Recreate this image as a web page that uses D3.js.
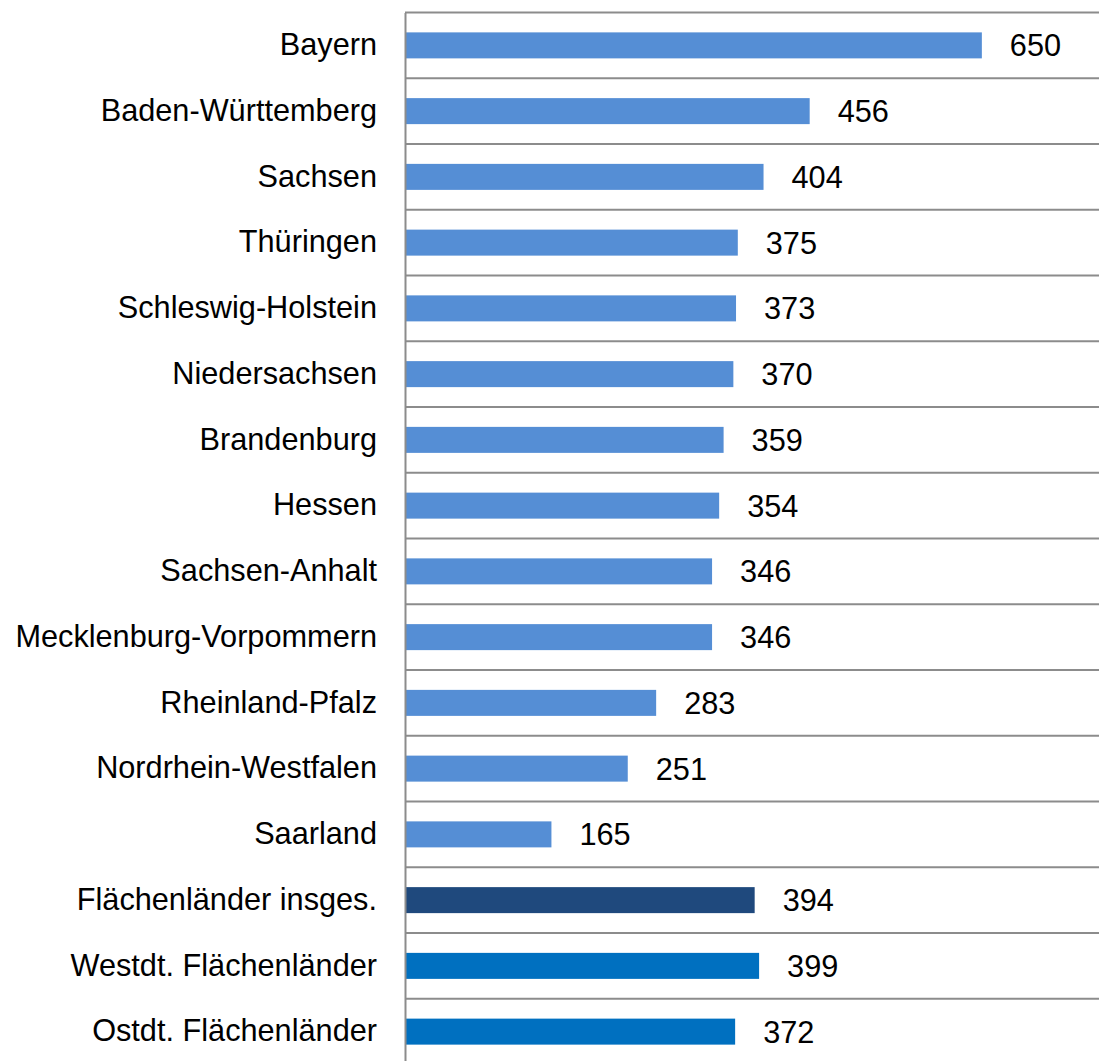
<!DOCTYPE html>
<html>
<head>
<meta charset="utf-8">
<script src="https://cdn.jsdelivr.net/npm/d3@7"></script>
<style>
  html, body { margin: 0; padding: 0; background: #fff; }
  svg { display: block; }
</style>
</head>
<body>
<svg id="chart" width="1099" height="1061"></svg>
<script>
// Kategorien (Länder und Aggregate) und Werte
const categories = [
  "Bayern", "Baden-Württemberg", "Sachsen", "Thüringen", "Schleswig-Holstein",
  "Niedersachsen", "Brandenburg", "Hessen", "Sachsen-Anhalt",
  "Mecklenburg-Vorpommern", "Rheinland-Pfalz", "Nordrhein-Westfalen", "Saarland",
  "Flächenländer insges.", "Westdt. Flächenländer", "Ostdt. Flächenländer"
];
const values = [650, 456, 404, 375, 373, 370, 359, 354, 346, 346, 283, 251, 165, 394, 399, 372];
const groups = ["land", "land", "land", "land", "land", "land", "land", "land", "land",
  "land", "land", "land", "land", "total", "region", "region"];

const colors = { land: "#558ED5", total: "#1F497D", region: "#0070C0" };

const svg = d3.select("#chart");
const chartW = 1099;
const axisX = 405;
const topY = 12.5;
const band = 65.75;

const x = d3.scaleLinear().domain([0, 782]).range([axisX, chartW]);
const y = d3.scaleBand()
  .domain(categories)
  .range([topY, topY + band * categories.length])
  .padding(0);

const barH = 26;
const font = "'Liberation Sans', Arial, sans-serif";
const fontSize = 30.7;

// horizontale Trennlinien zwischen den Kategorien
svg.append("g")
  .selectAll("line")
  .data(categories)
  .join("line")
  .attr("x1", axisX)
  .attr("x2", chartW)
  .attr("y1", d => y(d))
  .attr("y2", d => y(d))
  .attr("stroke", "#8c8c8c")
  .attr("stroke-width", 2);

// Balken
svg.append("g")
  .selectAll("rect")
  .data(categories)
  .join("rect")
  .attr("x", x(0))
  .attr("y", d => y(d) + y.bandwidth() / 2 - barH / 2)
  .attr("width", (d, i) => x(values[i]) - x(0))
  .attr("height", barH)
  .attr("fill", (d, i) => colors[groups[i]]);

// Werte rechts neben den Balken
svg.append("g")
  .selectAll("text")
  .data(categories)
  .join("text")
  .attr("x", (d, i) => x(values[i]) + 28)
  .attr("y", d => y(d) + y.bandwidth() / 2)
  .attr("dy", "0.36em")
  .attr("font-family", font)
  .attr("font-size", fontSize)
  .attr("fill", "#000")
  .text((d, i) => values[i]);

// Kategorieachse links
const yAxis = d3.axisLeft(y).tickSize(0).tickPadding(28);
const gy = svg.append("g")
  .attr("transform", `translate(${axisX},0)`)
  .call(yAxis);
gy.select(".domain")
  .attr("stroke", "#8c8c8c")
  .attr("stroke-width", 2);
gy.selectAll("text")
  .attr("font-family", font)
  .attr("font-size", fontSize)
  .attr("fill", "#000");
</script>
</body>
</html>
